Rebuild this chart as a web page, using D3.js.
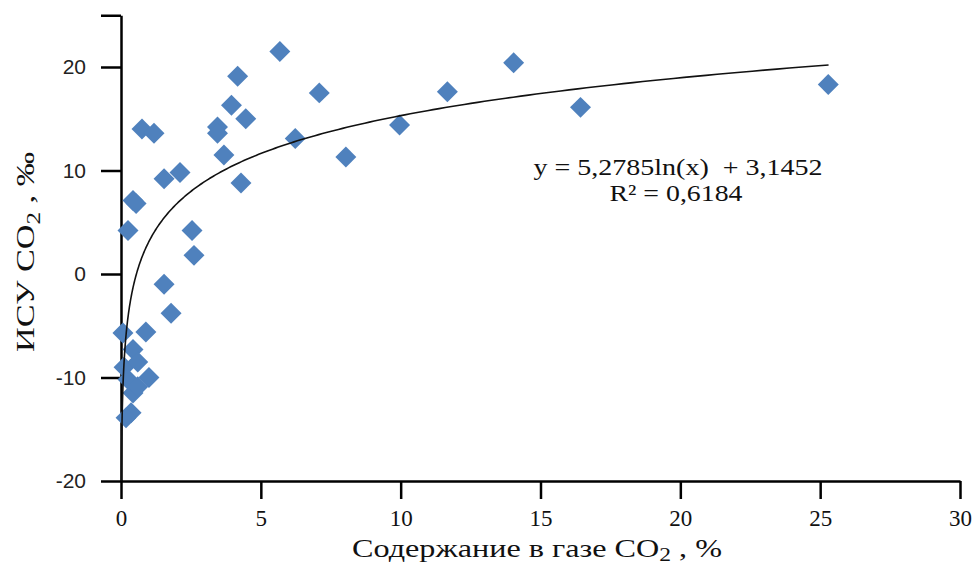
<!DOCTYPE html>
<html>
<head>
<meta charset="utf-8">
<script src="https://cdn.jsdelivr.net/npm/d3@7"></script>
<style>
  body { margin: 0; background: #fff; }
  svg { display: block; }
  .xax text { font-family: "Liberation Serif", "Times New Roman", serif; font-size: 23px; }
  .yax text { font-family: "Liberation Sans", Arial, sans-serif; font-size: 21px; }
</style>
</head>
<body>
<svg id="chart" width="975" height="567"></svg>
<script>
// содержание CO2 в газе, %
var co2 = [5.68, 4.17, 14.04, 7.09, 11.67, 3.95, 4.46, 3.45, 3.45, 0.75,
           1.18, 3.68, 6.23, 9.96, 8.04, 16.43, 25.29, 2.11, 1.54, 4.29,
           0.43, 0.54, 0.25, 2.54, 2.61, 1.54, 1.79, 0.89, 0.07, 0.43,
           0.11, 0.6, 1.0, 0.25, 0.43, 0.36, 0.18, 0.6];
// ИСУ CO2, ‰
var isu = [21.5, 19.1, 20.4, 17.5, 17.6, 16.3, 15.0, 14.2, 13.6, 14.0,
           13.6, 11.5, 13.1, 14.4, 11.3, 16.1, 18.3, 9.8, 9.2, 8.8,
           7.1, 6.8, 4.2, 4.2, 1.8, -1.0, -3.8, -5.6, -5.7, -7.3,
           -9.0, -8.5, -10.0, -10.2, -11.5, -13.4, -13.9, -10.9];

var xTicks = [0, 5, 10, 15, 20, 25, 30];
var yTicks = [-20, -10, 0, 10, 20, 25];

// логарифмическая линия тренда (из подписи)
var trendA = 5.2785, trendB = 3.1452;
var trendX = [0.0125, 25.3];
var eqText = 'y = 5,2785ln(x)  + 3,1452';
var r2Text = 'R² = 0,6184';

var svg = d3.select('#chart');

var x = d3.scaleLinear().domain([0, 30]).range([121, 960]);
var y = d3.scaleLinear().domain([-20, 25]).range([481, 15.25]);

// оси
var yAxis = svg.append('g')
  .attr('class', 'yax')
  .attr('transform', 'translate(121,0)')
  .call(d3.axisLeft(y).tickValues(yTicks).tickSize(20).tickSizeOuter(0).tickPadding(15)
    .tickFormat(function(d) { return d === 25 ? '' : d; }));
yAxis.selectAll('text').attr('fill', '#222');

var xAxis = svg.append('g')
  .attr('class', 'xax')
  .attr('transform', 'translate(0,481)')
  .call(d3.axisBottom(x).tickValues(xTicks).tickSize(18).tickSizeOuter(0).tickPadding(11));
xAxis.selectAll('text').attr('fill', '#111');

svg.selectAll('.domain, .tick line')
  .attr('stroke', '#000')
  .attr('stroke-width', 2.5);

// линия тренда
var curveX = d3.range(0, 401).map(function(i) {
  return trendX[0] * Math.pow(trendX[1] / trendX[0], i / 400);
});
var line = d3.line()
  .x(function(d) { return x(d); })
  .y(function(d) { return y(trendA * Math.log(d) + trendB); });

// точки
var diamond = d3.symbol().type(d3.symbolSquare).size(220);
svg.append('g').selectAll('path')
  .data(d3.range(co2.length))
  .join('path')
  .attr('d', diamond)
  .attr('transform', function(i) {
    return 'translate(' + x(co2[i]) + ',' + y(isu[i]) + ') rotate(45)';
  })
  .attr('fill', '#4F81BD');

svg.append('path')
  .datum(curveX)
  .attr('d', line)
  .attr('fill', 'none')
  .attr('stroke', '#111')
  .attr('stroke-width', 1.6);

// уравнение
function addLabel(txt, cx, cy, len, size) {
  svg.append('text')
    .attr('x', cx)
    .attr('y', cy)
    .attr('text-anchor', 'middle')
    .attr('textLength', len)
    .attr('lengthAdjust', 'spacingAndGlyphs')
    .style('font-family', '"Liberation Serif", "Times New Roman", serif')
    .style('font-size', size + 'px')
    .style('white-space', 'pre')
    .attr('fill', '#111')
    .text(txt);
}
addLabel(eqText, 678, 175, 289, 23);
addLabel(r2Text, 676, 201, 133, 23);

// подписи осей
var xt = svg.append('text')
  .attr('x', 537)
  .attr('y', 557)
  .attr('text-anchor', 'middle')
  .attr('textLength', 370)
  .attr('lengthAdjust', 'spacingAndGlyphs')
  .style('font-family', '"Liberation Serif", "Times New Roman", serif')
  .style('font-size', '26px')
  .attr('fill', '#111');
xt.append('tspan').text('Содержание в газе CO');
xt.append('tspan').attr('dy', 4).style('font-size', '19px').text('2');
xt.append('tspan').attr('dy', -4).text(' , %');

var yt = svg.append('text')
  .attr('transform', 'translate(34,252) rotate(-90)')
  .attr('text-anchor', 'middle')
  .attr('textLength', 200)
  .attr('lengthAdjust', 'spacingAndGlyphs')
  .style('font-family', '"Liberation Serif", "Times New Roman", serif')
  .style('font-size', '26px')
  .attr('fill', '#111');
yt.append('tspan').text('ИСУ CO');
yt.append('tspan').attr('dy', 6).style('font-size', '19px').text('2');
yt.append('tspan').attr('dy', -6).text(' , ‰');
</script>
</body>
</html>
